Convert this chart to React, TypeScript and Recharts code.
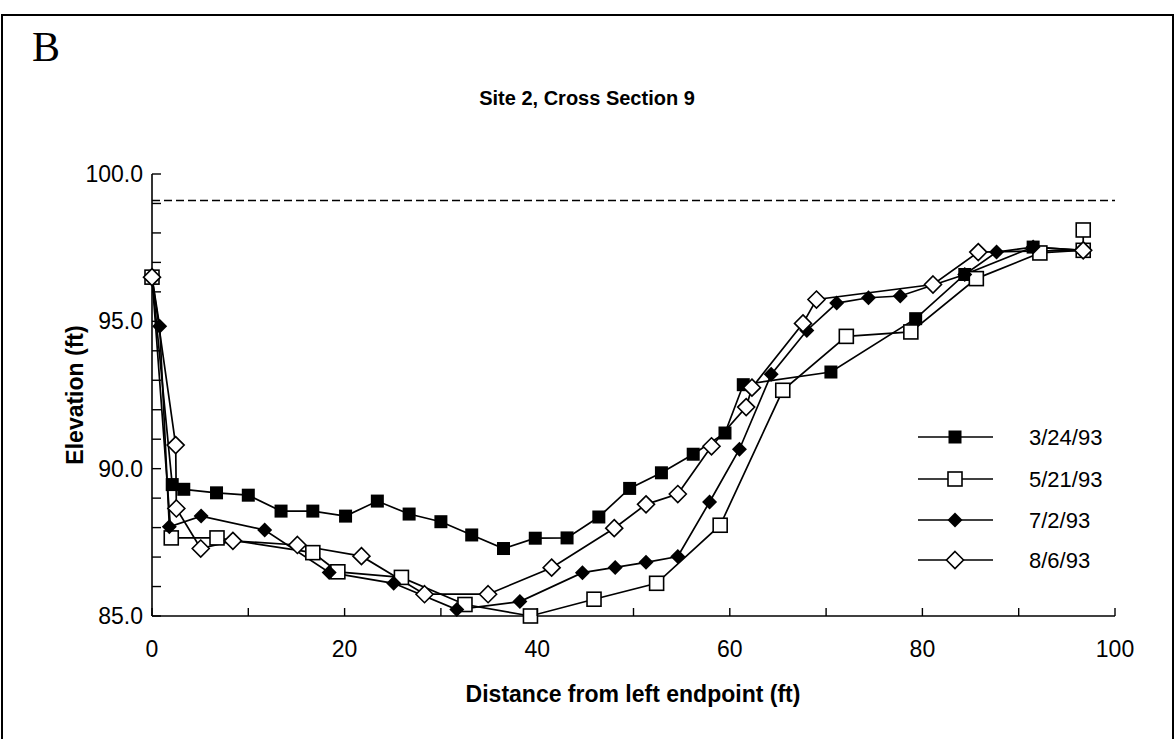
import { Line, LineChart, ReferenceLine, XAxis, YAxis } from "recharts";

// Cross section survey, distance (ft) / elevation (ft)
const X_TICKS = [0, 10, 20, 30, 40, 50, 60, 70, 80, 90, 100];
const Y_TICKS = [85, 86, 87, 88, 89, 90, 91, 92, 93, 94, 95, 96, 97, 98, 99, 100];
const WATER_SURFACE = 99.1;

const MAR24_X = [0, 2.1, 3.3, 6.7, 10.0, 13.4, 16.7, 20.1, 23.4, 26.7, 30.0, 33.2, 36.5, 39.8, 43.1, 46.4, 49.6, 52.9, 56.2, 59.5, 61.4, 70.5, 79.3, 84.4, 91.5, 96.7];
const MAR24_Y = [96.5, 89.46, 89.3, 89.18, 89.1, 88.56, 88.56, 88.39, 88.9, 88.46, 88.2, 87.75, 87.29, 87.64, 87.65, 88.36, 89.33, 89.86, 90.49, 91.21, 92.85, 93.28, 95.09, 96.59, 97.52, 97.41];

const MAY21_X = [0, 2.0, 6.75, 16.7, 19.3, 25.9, 32.5, 39.3, 45.9, 52.4, 59.0, 65.5, 72.1, 78.8, 85.6, 92.2, 96.7, 96.7];
const MAY21_Y = [96.5, 87.65, 87.65, 87.15, 86.5, 86.31, 85.39, 85.0, 85.57, 86.11, 88.08, 92.66, 94.49, 94.64, 96.45, 97.32, 97.41, 98.1];

const JUL2_X = [0, 0.8, 1.8, 5.1, 11.7, 18.4, 25.1, 31.65, 38.2, 44.7, 48.1, 51.3, 54.6, 57.9, 61.0, 64.3, 68.0, 71.1, 74.4, 77.7, 84.4, 87.7, 91.5, 96.7];
const JUL2_Y = [96.5, 94.83, 88.03, 88.39, 87.92, 86.48, 86.11, 85.22, 85.49, 86.47, 86.65, 86.82, 87.02, 88.87, 90.66, 93.2, 94.69, 95.62, 95.8, 95.86, 96.59, 97.35, 97.52, 97.41];

const AUG6_X = [0, 2.46, 2.53, 5.06, 8.4, 15.1, 21.75, 28.3, 34.9, 41.5, 48.0, 51.3, 54.6, 58.1, 61.7, 62.3, 67.6, 69.0, 81.1, 85.8, 96.7];
const AUG6_Y = [96.5, 90.8, 88.65, 87.29, 87.55, 87.41, 87.03, 85.74, 85.74, 86.64, 87.98, 88.79, 89.14, 90.76, 92.09, 92.75, 94.93, 95.74, 96.25, 97.35, 97.41];

type MarkerKind = "filledSquare" | "openSquare" | "filledDiamond" | "openDiamond";

const zip = (xs: number[], ys: number[]) => xs.map((x, i) => ({ x, y: ys[i] }));

const SERIES: { name: string; marker: MarkerKind; data: { x: number; y: number }[] }[] = [
  { name: "3/24/93", marker: "filledSquare", data: zip(MAR24_X, MAR24_Y) },
  { name: "5/21/93", marker: "openSquare", data: zip(MAY21_X, MAY21_Y) },
  { name: "7/2/93", marker: "filledDiamond", data: zip(JUL2_X, JUL2_Y) },
  { name: "8/6/93", marker: "openDiamond", data: zip(AUG6_X, AUG6_Y) },
];

const FONT = '"Liberation Sans", Arial, Helvetica, sans-serif';
const X_MARGIN = 25;
const Y_MARGIN = 9;

function Marker({ kind, cx, cy }: { kind: MarkerKind; cx: number; cy: number }) {
  if (kind === "filledSquare")
    return <rect x={cx - 6.5} y={cy - 6.5} width={13} height={13} fill="#000" />;
  if (kind === "openSquare")
    return <rect x={cx - 7} y={cy - 7} width={14} height={14} fill="#fff" stroke="#000" strokeWidth={1.6} />;
  const r = kind === "filledDiamond" ? 7.5 : 8.5;
  const d = `M${cx} ${cy - r}L${cx + r} ${cy}L${cx} ${cy + r}L${cx - r} ${cy}Z`;
  return kind === "filledDiamond" ? (
    <path d={d} fill="#000" />
  ) : (
    <path d={d} fill="#fff" stroke="#000" strokeWidth={1.6} />
  );
}

function XTick(p: any) {
  const v = p.payload.value as number;
  const ay = p.y - X_MARGIN;
  return (
    <g>
      <line x1={p.x} x2={p.x} y1={ay} y2={ay - 8} stroke="#000" strokeWidth={1.4} />
      {v % 20 === 0 && (
        <text x={p.x} y={p.y} dy="0.71em" textAnchor="middle" fontFamily={FONT} fontSize={23} fill="#000">
          {v}
        </text>
      )}
    </g>
  );
}

function YTick(p: any) {
  const v = p.payload.value as number;
  const ax = p.x + Y_MARGIN;
  return (
    <g>
      <line x1={ax} x2={ax + 9} y1={p.y} y2={p.y} stroke="#000" strokeWidth={1.4} />
      {v % 5 === 0 && (
        <text x={p.x} y={p.y} dy="0.355em" textAnchor="end" fontFamily={FONT} fontSize={23} fill="#000">
          {v.toFixed(1)}
        </text>
      )}
    </g>
  );
}

const LEGEND_ROWS_Y = [437, 479, 520, 560];

export default function App() {
  return (
    <div
      style={{
        position: "absolute",
        left: 0,
        top: 0,
        width: 1174,
        height: 739,
        background: "#fff",
        overflow: "hidden",
      }}
    >
      <div
        style={{
          position: "absolute",
          left: 1,
          top: 14,
          width: 1169,
          height: 740,
          borderTop: "2px solid #000",
          borderLeft: "2px solid #000",
          borderRight: "2px solid #000",
        }}
      />
      <div
        style={{
          position: "absolute",
          left: 32,
          top: 22,
          fontFamily: '"Liberation Serif", "Times New Roman", serif',
          fontSize: 42,
          lineHeight: "50px",
        }}
      >
        B
      </div>
      <div
        style={{
          position: "absolute",
          left: 587,
          top: 98,
          transform: "translate(-50%, -50%)",
          fontFamily: FONT,
          fontWeight: "bold",
          fontSize: 20,
          whiteSpace: "nowrap",
        }}
      >
        Site 2, Cross Section 9
      </div>
      <div
        style={{
          position: "absolute",
          left: 75,
          top: 395,
          transform: "translate(-50%, -50%) rotate(-90deg)",
          fontFamily: FONT,
          fontWeight: "bold",
          fontSize: 23,
          whiteSpace: "nowrap",
        }}
      >
        Elevation (ft)
      </div>
      <div
        style={{
          position: "absolute",
          left: 633,
          top: 694,
          transform: "translate(-50%, -50%)",
          fontFamily: FONT,
          fontWeight: "bold",
          fontSize: 23,
          whiteSpace: "nowrap",
        }}
      >
        Distance from left endpoint (ft)
      </div>

      <div style={{ position: "absolute", left: 0, top: 0 }}>
        <LineChart width={1174} height={739} margin={{ top: 174, right: 59, bottom: 63, left: 92 }}>
          <XAxis
            type="number"
            dataKey="x"
            domain={[0, 100]}
            ticks={X_TICKS}
            interval={0}
            height={60}
            tickSize={0}
            tickMargin={X_MARGIN}
            tickLine={false}
            axisLine={{ stroke: "#000", strokeWidth: 1.6 }}
            tick={XTick}
          />
          <YAxis
            type="number"
            dataKey="y"
            domain={[85, 100]}
            ticks={Y_TICKS}
            interval={0}
            width={60}
            tickSize={0}
            tickMargin={Y_MARGIN}
            tickLine={false}
            axisLine={{ stroke: "#000", strokeWidth: 1.6 }}
            tick={YTick}
          />
          <ReferenceLine y={WATER_SURFACE} stroke="#000" strokeWidth={1.5} strokeDasharray="8 4" />
          {SERIES.map((s) => (
            <Line
              key={s.name}
              data={s.data}
              dataKey="y"
              name={s.name}
              type="linear"
              stroke="#000"
              strokeWidth={1.7}
              isAnimationActive={false}
              activeDot={false}
              dot={(p: any) => <Marker key={`${s.name}-${p.index}`} kind={s.marker} cx={p.cx} cy={p.cy} />}
            />
          ))}
        </LineChart>
      </div>

      <svg style={{ position: "absolute", left: 0, top: 0 }} width={1174} height={739}>
        {SERIES.map((s, i) => {
          const y = LEGEND_ROWS_Y[i];
          return (
            <g key={s.name}>
              <line x1={918} x2={993} y1={y} y2={y} stroke="#000" strokeWidth={1.6} />
              <Marker kind={s.marker} cx={955} cy={y} />
              <text x={1029} y={y} dy="0.355em" fontFamily={FONT} fontSize={22} fill="#000">
                {s.name}
              </text>
            </g>
          );
        })}
      </svg>
    </div>
  );
}
